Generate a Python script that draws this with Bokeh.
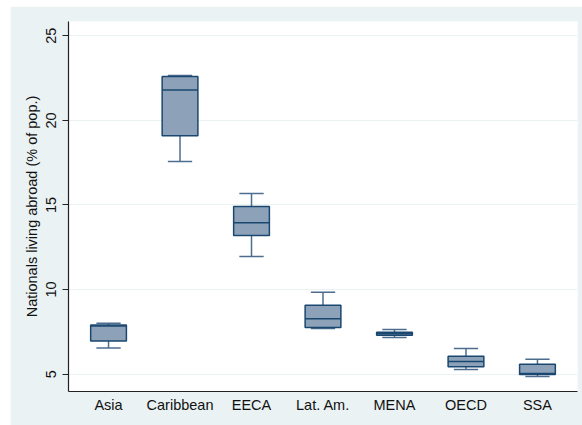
from bokeh.plotting import figure
from bokeh.models import ColumnDataSource, Range1d, FixedTicker
from bokeh.transform import dodge
from bokeh.embed import file_html
from bokeh.resources import INLINE

regions = ["Asia", "Caribbean", "EECA", "Lat. Am.", "MENA", "OECD", "SSA"]
lows    = [6.55, 17.57, 11.96, 7.70, 7.16, 5.27, 4.86]
q1s     = [6.95, 19.09, 13.20, 7.75, 7.29, 5.43, 4.97]
medians = [7.84, 21.79, 13.95, 8.27, 7.38, 5.75, 5.04]
q3s     = [7.91, 22.60, 14.91, 9.07, 7.47, 6.06, 5.59]
highs   = [8.00, 22.65, 15.68, 9.84, 7.64, 6.51, 5.88]
y_ticks = [5, 10, 15, 20, 25]

xs = list(range(len(regions)))
src = ColumnDataSource(dict(x=xs, low=lows, q1=q1s, med=medians, q3=q3s, high=highs))

BG = "#eaf2f3"
FONT = "Liberation Sans"

p = figure(frame_width=509, frame_height=370, min_border_left=58, min_border_right=5,
           min_border_top=15, min_border_bottom=34,
           x_range=Range1d(-0.56, 6.56), y_range=Range1d(3.972, 25.845),
           output_backend="svg", toolbar_location=None,
           background_fill_color="white", border_fill_color=BG)
p.margin = (6, 0, 0, 10)
p.outline_line_color = None

# whiskers
wcol = "#4D6D8F"
p.segment(x0="x", x1="x", y0="q3", y1="high", source=src, line_color=wcol, line_width=1.5)
p.segment(x0="x", x1="x", y0="low", y1="q1", source=src, line_color=wcol, line_width=1.5)
p.segment(x0=dodge("x", -0.17), x1=dodge("x", 0.17), y0="high", y1="high", source=src,
          line_color=wcol, line_width=1.5)
p.segment(x0=dodge("x", -0.17), x1=dodge("x", 0.17), y0="low", y1="low", source=src,
          line_color=wcol, line_width=1.5)

# boxes
p.vbar(x="x", bottom="q1", top="q3", width=0.5, source=src,
       fill_color="#8DA2B8", line_color="#1A476F", line_width=1.5)
p.segment(x0=dodge("x", -0.25), x1=dodge("x", 0.25), y0="med", y1="med", source=src,
          line_color="#1A476F", line_width=1.5)

# axes
p.xaxis.ticker = FixedTicker(ticks=xs)
p.xaxis.major_label_overrides = {i: r for i, r in enumerate(regions)}
p.xaxis.major_tick_out = 0
p.xaxis.major_tick_in = 0
p.xaxis.minor_tick_line_color = None
p.xaxis.major_label_standoff = 5
p.xgrid.grid_line_color = None

p.yaxis.ticker = FixedTicker(ticks=y_ticks)
p.yaxis.major_label_orientation = "vertical"
p.yaxis.major_tick_out = 6
p.yaxis.major_tick_in = 0
p.yaxis.minor_tick_line_color = None
p.yaxis.major_label_standoff = 6
p.yaxis.axis_label = "Nationals living abroad (% of pop.)"
p.yaxis.axis_label_standoff = 4
p.ygrid.grid_line_color = BG
p.ygrid.grid_line_width = 1.2

for ax in (p.xaxis[0], p.yaxis[0]):
    ax.axis_line_color = "#222222"
    ax.axis_line_width = 1.2
    ax.major_tick_line_color = "#222222"
    ax.major_label_text_font = FONT
    ax.major_label_text_font_size = "14.5px"
    ax.major_label_text_color = "#111111"
    ax.axis_label_text_font = FONT
    ax.axis_label_text_font_size = "14.5px"
    ax.axis_label_text_font_style = "normal"
    ax.axis_label_text_color = "#111111"

open("out.html", "w").write(file_html(p, INLINE))
